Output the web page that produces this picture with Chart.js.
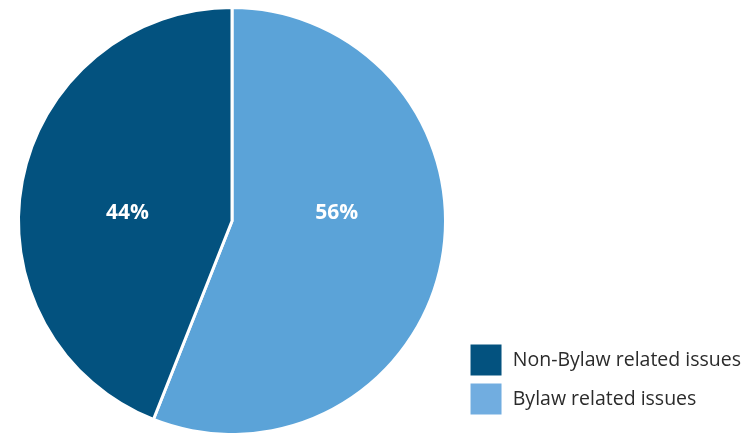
<!DOCTYPE html>
<html>
<head>
<meta charset="utf-8">
<script src="https://cdn.jsdelivr.net/npm/chart.js@4/dist/chart.umd.min.js"></script>
<style>
  html, body { margin: 0; padding: 0; background: #fff; overflow: hidden; }
  #wrap { position: relative; width: 751px; height: 433px; }
</style>
</head>
<body>
<div id="wrap"><canvas id="pie"></canvas></div>
<script>
// issue split, percent of all calls
const categories = ["Bylaw related issues", "Non-Bylaw related issues"];
const shares = [56, 44];
const colors = ["#5ba3d8", "#03527f"];
const legendColors = ["#71ade0", "#03527f"];

// white percentage text inside each slice
const sliceLabels = {
  id: "sliceLabels",
  afterDatasetsDraw(chart) {
    const ctx = chart.ctx;
    const meta = chart.getDatasetMeta(0);
    ctx.save();
    ctx.fillStyle = "#fff";
    ctx.font = "bold 21px 'Open Sans'";
    ctx.textAlign = "center";
    ctx.textBaseline = "middle";
    meta.data.forEach((arc, i) => {
      const mid = arc.tooltipPosition();
      const side = mid.x < arc.x ? -1 : 1;
      const x = arc.x + side * arc.outerRadius * 0.49;
      const y = arc.y - 8;
      ctx.fillText(shares[i] + "%", x, y);
    });
    ctx.restore();
  },
};

new Chart(document.getElementById("pie"), {
  type: "pie",
  data: {
    labels: categories,
    datasets: [{
      data: shares,
      backgroundColor: colors,
      borderColor: "#fff",
      borderWidth: 3,
      radius: 213.5,
    }],
  },
  options: {
    responsive: true,
    maintainAspectRatio: false,
    animation: false,
    layout: { padding: { top: 21, bottom: 12, left: 0, right: 0 } },
    plugins: {
      tooltip: { enabled: false },
      legend: {
        position: "right",
        align: "end",
        reverse: true,
        labels: {
          boxWidth: 34,
          boxHeight: 34,
          padding: 5,
          color: "#2b2b2b",
          font: { family: "'Open Sans'", size: 19.5 },
          generateLabels(chart) {
            const items = Chart.overrides.pie.plugins.legend.labels.generateLabels(chart);
            items.forEach((it) => { it.fillStyle = legendColors[it.index]; });
            return items;
          },
        },
      },
    },
  },
  plugins: [sliceLabels],
});
</script>
</body>
</html>
